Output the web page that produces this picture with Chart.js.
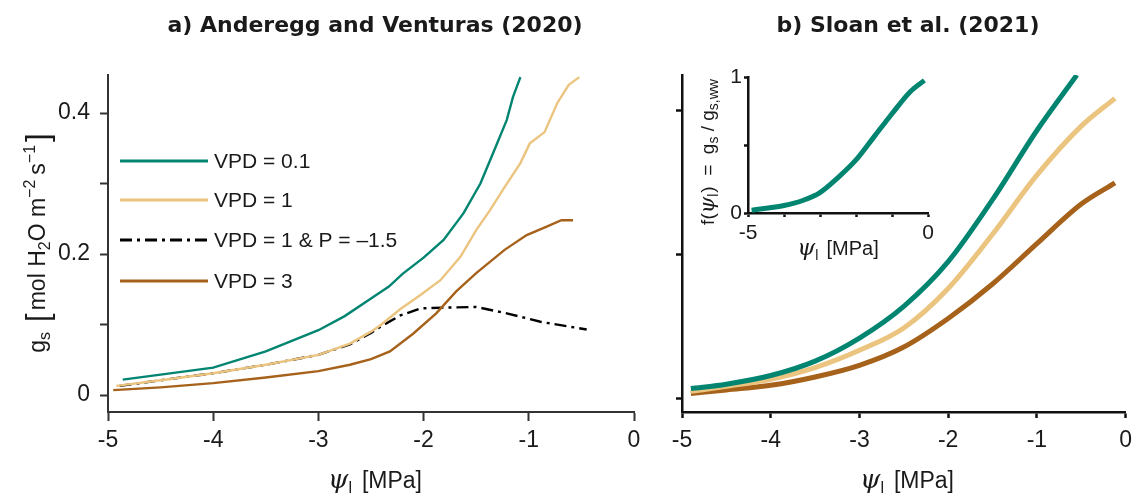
<!DOCTYPE html>
<html>
<head>
<meta charset="utf-8">
<script src="https://cdn.jsdelivr.net/npm/chart.js@4.4.1/dist/chart.umd.min.js"></script>
<style>
  body { margin: 0; background: #fff; }
  #wrap { position: relative; width: 1141px; height: 498px; overflow: hidden; }
  canvas { position: absolute; left: 0; top: 0; }
</style>
</head>
<body>
<div id="wrap">
  <canvas id="chartA" width="1141" height="498"></canvas>
  <canvas id="chartB" width="1141" height="498"></canvas>
  <canvas id="chartInset" width="1141" height="498"></canvas>
</div>
<script>
// ---- panel a) Anderegg and Venturas (2020) ----
const xVpd01 = [-4.86, -4.5, -4, -3.5, -3, -2.75, -2.5, -2.33, -2.2, -2.0, -1.81, -1.62, -1.46, -1.34, -1.21, -1.15, -1.08];
const yVpd01 = [0.022, 0.029, 0.039, 0.062, 0.092, 0.112, 0.137, 0.154, 0.172, 0.195, 0.22, 0.258, 0.300, 0.343, 0.39, 0.423, 0.451];

const xVpd1 = [-4.92, -4.5, -4, -3.5, -3, -2.7, -2.5, -2.41, -2.22, -2.03, -1.84, -1.65, -1.5, -1.37, -1.23, -1.08, -0.99, -0.85, -0.73, -0.62, -0.52];
const yVpd1 = [0.013, 0.021, 0.031, 0.043, 0.057, 0.073, 0.09, 0.099, 0.122, 0.142, 0.163, 0.196, 0.234, 0.262, 0.295, 0.329, 0.357, 0.373, 0.414, 0.44, 0.451];

const xVpd1P = [-4.89, -4.5, -4, -3.5, -3, -2.7, -2.5, -2.41, -2.22, -2.03, -1.81, -1.5, -1.21, -0.89, -0.45];
const yVpd1P = [0.013, 0.021, 0.031, 0.043, 0.057, 0.072, 0.088, 0.097, 0.113, 0.123, 0.124, 0.125, 0.116, 0.104, 0.093];

const xVpd3 = [-4.95, -4.5, -4, -3.5, -3, -2.7, -2.5, -2.32, -2.1, -1.88, -1.69, -1.5, -1.23, -1.02, -0.83, -0.69, -0.58];
const yVpd3 = [0.007, 0.011, 0.017, 0.025, 0.034, 0.043, 0.051, 0.062, 0.087, 0.116, 0.147, 0.173, 0.206, 0.227, 0.239, 0.248, 0.248];

const legendA = ["VPD = 0.1", "VPD = 1", "VPD = 1 & P = \u20131.5", "VPD = 3"];
const xTicks = [-5, -4, -3, -2, -1, 0];
const xTickLabels = ["-5", "-4", "-3", "-2", "-1", "0"];
const yTicksA = [0, 0.1, 0.2, 0.3, 0.4];
const yTickLabelsA = ["0", "", "0.2", "", "0.4"];

// ---- panel b) Sloan et al. (2021) ----
const xSloanTeal = [-4.9, -4.5, -4, -3.5, -3, -2.5, -2, -1.5, -1, -0.55];
const ySloanTeal = [0.07, 0.10, 0.16, 0.26, 0.42, 0.64, 0.95, 1.38, 1.86, 2.245];
const xSloanBeige = [-4.9, -4.5, -4, -3.5, -3, -2.5, -2, -1.5, -1, -0.5, -0.12];
const ySloanBeige = [0.05, 0.085, 0.134, 0.215, 0.335, 0.49, 0.764, 1.14, 1.55, 1.89, 2.083];
const xSloanBrown = [-4.9, -4.5, -4, -3.5, -3, -2.5, -2, -1.5, -1, -0.5, -0.12];
const ySloanBrown = [0.035, 0.06, 0.092, 0.15, 0.231, 0.358, 0.556, 0.795, 1.075, 1.35, 1.497];
const yTicksB = [0, 1, 2];

// ---- inset f(psi) ----
const xInset = [-4.9, -4.5, -4, -3.5, -3, -2.5, -2, -1.5, -1, -0.5, -0.1];
const yInset = [0.02, 0.035, 0.055, 0.09, 0.15, 0.26, 0.39, 0.56, 0.73, 0.89, 0.975];
const insetXTickLabels = ["-5", "", "", "", "", "0"];
const yTicksInset = [0, 0.5, 1];
const yTickLabelsInset = ["0", "", "1"];

const TEAL = "#018571", BEIGE = "#ebc47f", BROWN = "#a6611a";
const SANS = "'Liberation Sans', Arial, sans-serif";
const SERIF = "'DejaVu Serif', serif";

const pts = (xs, ys) => xs.map((x, i) => ({ x: x, y: ys[i] }));

// draw a row of text pieces (sub/superscripts), centred at x,y (baseline)
function rich(ctx, x, y, parts, rotate) {
  ctx.save();
  ctx.translate(x, y);
  if (rotate) ctx.rotate(-Math.PI / 2);
  ctx.fillStyle = "#1a1a1a";
  ctx.textBaseline = "alphabetic";
  ctx.textAlign = "left";
  let w = 0;
  parts.forEach(p => { ctx.font = p.f; w += ctx.measureText(p.t).width + (p.gap || 0); });
  let cx = -w / 2;
  parts.forEach(p => {
    ctx.font = p.f;
    ctx.fillText(p.t, cx, p.dy || 0);
    cx += ctx.measureText(p.t).width + (p.gap || 0);
  });
  ctx.restore();
}

function psiTitle(size, sub, gap) {
  return [
    { t: "\u03c8", f: "italic " + (size + 3) + "px " + SERIF },
    { t: "l", f: sub + "px " + SANS, dy: 5, gap: gap },
    { t: "[MPa]", f: size + "px " + SANS }
  ];
}

function axisOpts(min, max, ticks, labels, tickLen, pad, fontSize, color, lineW) {
  return {
    type: "linear",
    min: min,
    max: max,
    afterBuildTicks: s => { s.ticks = ticks.map(v => ({ value: v })); },
    ticks: {
      autoSkip: false,
      maxRotation: 0,
      padding: pad,
      color: "#1a1a1a",
      font: { family: SANS, size: fontSize },
      callback: (v, i) => labels[i]
    },
    grid: { drawOnChartArea: false, drawTicks: true, tickLength: tickLen, tickWidth: lineW, tickColor: color },
    border: { display: true, color: color, width: lineW },
    title: { display: false }
  };
}

const textPlugin = (id, fn) => ({ id: id, afterDraw: chart => fn(chart.ctx, chart) });

// ---------- chart a ----------
const dsA = [
  { data: pts(xVpd01, yVpd01), borderColor: TEAL },
  { data: pts(xVpd1, yVpd1), borderColor: BEIGE },
  { data: pts(xVpd3, yVpd3), borderColor: BROWN },
  { data: pts(xVpd1P, yVpd1P), borderColor: "#000", borderDash: [12, 5, 3, 5] }
];
dsA.forEach(d => { d.showLine = true; d.pointRadius = 0; d.borderWidth = 2.4; d.tension = 0; d.fill = false; });
const legendStyle = [dsA[0], dsA[1], dsA[3], dsA[2]];

const xA = axisOpts(-5, 0, xTicks, xTickLabels, 9, 6, 23, "#333", 2);
xA.afterFit = s => { s.height = 498 - 412; };
const yA = axisOpts(-0.024, 0.454, yTicksA, yTickLabelsA, 8, 10, 23, "#333", 2);
yA.afterFit = s => { s.width = 108; };

new Chart(document.getElementById("chartA"), {
  type: "scatter",
  data: { datasets: dsA },
  options: {
    responsive: false,
    animation: false,
    layout: { padding: { left: 0, top: 75, right: 1141 - 634, bottom: 0 } },
    plugins: { legend: { display: false }, tooltip: { enabled: false } },
    scales: { x: xA, y: yA }
  },
  plugins: [textPlugin("textA", ctx => {
    ctx.save();
    ctx.fillStyle = "#1a1a1a";
    ctx.font = "bold 22px 'DejaVu Sans', sans-serif";
    ctx.textAlign = "center";
    ctx.fillText("a) Anderegg and Venturas (2020)", 375, 32);
    // legend
    const ly = [161, 200, 240, 281];
    legendA.forEach((lab, i) => {
      const d = legendStyle[i];
      ctx.beginPath();
      ctx.strokeStyle = d.borderColor;
      ctx.lineWidth = 3;
      ctx.setLineDash(d.borderDash || []);
      ctx.moveTo(120, ly[i]);
      ctx.lineTo(208, ly[i]);
      ctx.stroke();
      ctx.setLineDash([]);
      ctx.font = "21px " + SANS;
      ctx.textAlign = "left";
      ctx.textBaseline = "middle";
      ctx.fillText(lab, 214, ly[i] + 1);
    });
    ctx.restore();
    rich(ctx, 375, 488, psiTitle(23, 16, 10));
    rich(ctx, 45, 243, [
      { t: "g", f: "23px " + SANS },
      { t: "s", f: "16px " + SANS, dy: 5, gap: 10 },
      { t: "[", f: "31px " + SANS, dy: 3, gap: 3 },
      { t: "mol H", f: "23px " + SANS },
      { t: "2", f: "16px " + SANS, dy: 5 },
      { t: "O m", f: "23px " + SANS },
      { t: "\u22122", f: "16px " + SANS, dy: -10, gap: 5 },
      { t: "s", f: "23px " + SANS },
      { t: "\u22121", f: "16px " + SANS, dy: -10, gap: 3 },
      { t: "]", f: "31px " + SANS, dy: 3 }
    ], true);
  })]
});

// ---------- chart b ----------
const dsB = [
  { data: pts(xSloanTeal, ySloanTeal), borderColor: TEAL },
  { data: pts(xSloanBeige, ySloanBeige), borderColor: BEIGE },
  { data: pts(xSloanBrown, ySloanBrown), borderColor: BROWN }
];
dsB.forEach(d => { d.showLine = true; d.pointRadius = 0; d.borderWidth = 5; d.cubicInterpolationMode = "monotone"; d.fill = false; });

const xB = axisOpts(-5, 0, xTicks, xTickLabels, 6, 9, 23, "#111", 2.5);
xB.afterFit = s => { s.height = 498 - 412; };
const yB = axisOpts(-0.093, 2.245, yTicksB, ["", "", ""], 6, 0, 23, "#111", 2.5);
yB.afterFit = s => { s.width = 682; };

new Chart(document.getElementById("chartB"), {
  type: "scatter",
  data: { datasets: dsB },
  options: {
    responsive: false,
    animation: false,
    layout: { padding: { left: 0, top: 75, right: 1141 - 1133, bottom: 0 } },
    plugins: { legend: { display: false }, tooltip: { enabled: false } },
    scales: { x: xB, y: yB }
  },
  plugins: [textPlugin("textB", ctx => {
    ctx.save();
    ctx.fillStyle = "#1a1a1a";
    ctx.font = "bold 22px 'DejaVu Sans', sans-serif";
    ctx.textAlign = "center";
    ctx.fillText("b) Sloan et al. (2021)", 908, 32);
    ctx.restore();
    rich(ctx, 907, 488, psiTitle(23, 16, 10));
  })]
});

// ---------- inset ----------
const xI = axisOpts(-5, 0, xTicks, insetXTickLabels, 4, 4, 21, "#111", 2.5);
xI.afterFit = s => { s.height = 498 - 213; };
const yI = axisOpts(0, 1, yTicksInset, yTickLabelsInset, 4, 2, 21, "#111", 2.5);
yI.afterFit = s => { s.width = 748; };

new Chart(document.getElementById("chartInset"), {
  type: "scatter",
  data: { datasets: [{ data: pts(xInset, yInset), borderColor: TEAL, borderWidth: 5, showLine: true, pointRadius: 0, cubicInterpolationMode: "monotone", fill: false, clip: false }] },
  options: {
    responsive: false,
    animation: false,
    layout: { padding: { left: 0, top: 77, right: 1141 - 928, bottom: 0 } },
    plugins: { legend: { display: false }, tooltip: { enabled: false } },
    scales: { x: xI, y: yI }
  },
  plugins: [textPlugin("textI", ctx => {
    rich(ctx, 838, 255, psiTitle(20, 14, 8));
    rich(ctx, 714, 152, [
      { t: "f(", f: "19px " + SANS },
      { t: "\u03c8", f: "italic 21px " + SERIF },
      { t: "l", f: "14px " + SANS, dy: 4, gap: 1 },
      { t: ")  =  g", f: "19px " + SANS },
      { t: "s", f: "14px " + SANS, dy: 4 },
      { t: " / g", f: "19px " + SANS },
      { t: "s,ww", f: "14px " + SANS, dy: 4 }
    ], true);
  })]
});
</script>
</body>
</html>
